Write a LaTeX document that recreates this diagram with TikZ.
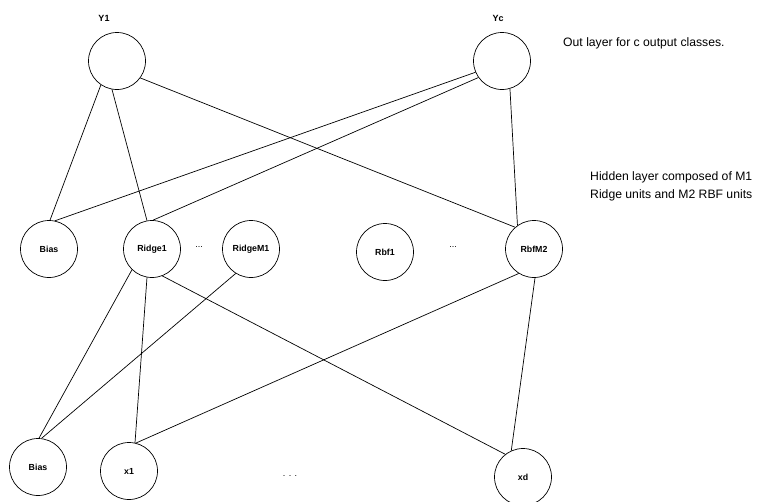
\documentclass[tikz,border=0pt]{standalone}
\usepackage{fontspec}
\setmainfont{Liberation Sans}
\begin{document}
\begin{tikzpicture}[x=1pt,y=-1pt,
  unit/.style={circle,draw,line width=0.7pt,minimum size=57pt,inner sep=0pt,font=\fontsize{8.8}{11}\selectfont\bfseries},
  lbl/.style={font=\fontsize{9}{11}\selectfont\bfseries,inner sep=0pt},
  dots/.style={font=\fontsize{9}{11}\selectfont,inner sep=0pt},
  note/.style={font=\fontsize{12.2}{18}\selectfont,inner sep=0pt,align=left,anchor=west},
  conn/.style={line width=0.7pt}]
\useasboundingbox (0,0) rectangle (759,501);
% output layer
\node[unit] (Y1) at (117,61) {};
\node[unit] (Yc) at (502,61) {};
\node[lbl] (tY1) at (104,18) {Y1};
\node[lbl] (tYc) at (498,18) {Yc};
\node[note] (out) at (563,43) {Out layer for c output classes.};
% hidden layer
\node[unit] (HBias) at (49,249) {Bias};
\node[unit] (R1) at (152,249) {Ridge1};
\node[dots] (d1) at (199,247) {...};
\node[unit] (RM1) at (251,249) {RidgeM1};
\node[unit] (Rb1) at (385,252) {Rbf1};
\node[dots] (d2) at (453,247) {...};
\node[unit] (RbM2) at (534,249) {RbfM2};
\node[note] (hid) at (590,186) {Hidden layer composed of M1\\Ridge units and M2 RBF units};
% input layer
\node[unit] (IBias) at (38,467) {Bias};
\node[unit] (x1) at (129,471) {x1};
\node[dots] (d3) at (290,476) {. . .};
\node[unit] (xd) at (523,477) {xd};
% connections output-hidden
\draw[conn] (Y1.-124) -- (HBias.88);
\draw[conn] (Y1.-100) -- (R1.100);
\draw[conn] (Y1.-36) -- (RbM2.131);
\draw[conn] (Yc.-157) -- (HBias.78);
\draw[conn] (Yc.-145) -- (R1.88);
\draw[conn] (Yc.-74) -- (RbM2.125);
% connections hidden-input
\draw[conn] (R1.-134) -- (IBias.88);
\draw[conn] (R1.-100) -- (x1.78);
\draw[conn] (R1.-69) -- (xd.128);
\draw[conn] (RM1.-122) -- (IBias.83);
\draw[conn] (RbM2.-122) -- (x1.76);
\draw[conn] (RbM2.-88) -- (xd.114);
\end{tikzpicture}
\end{document}
